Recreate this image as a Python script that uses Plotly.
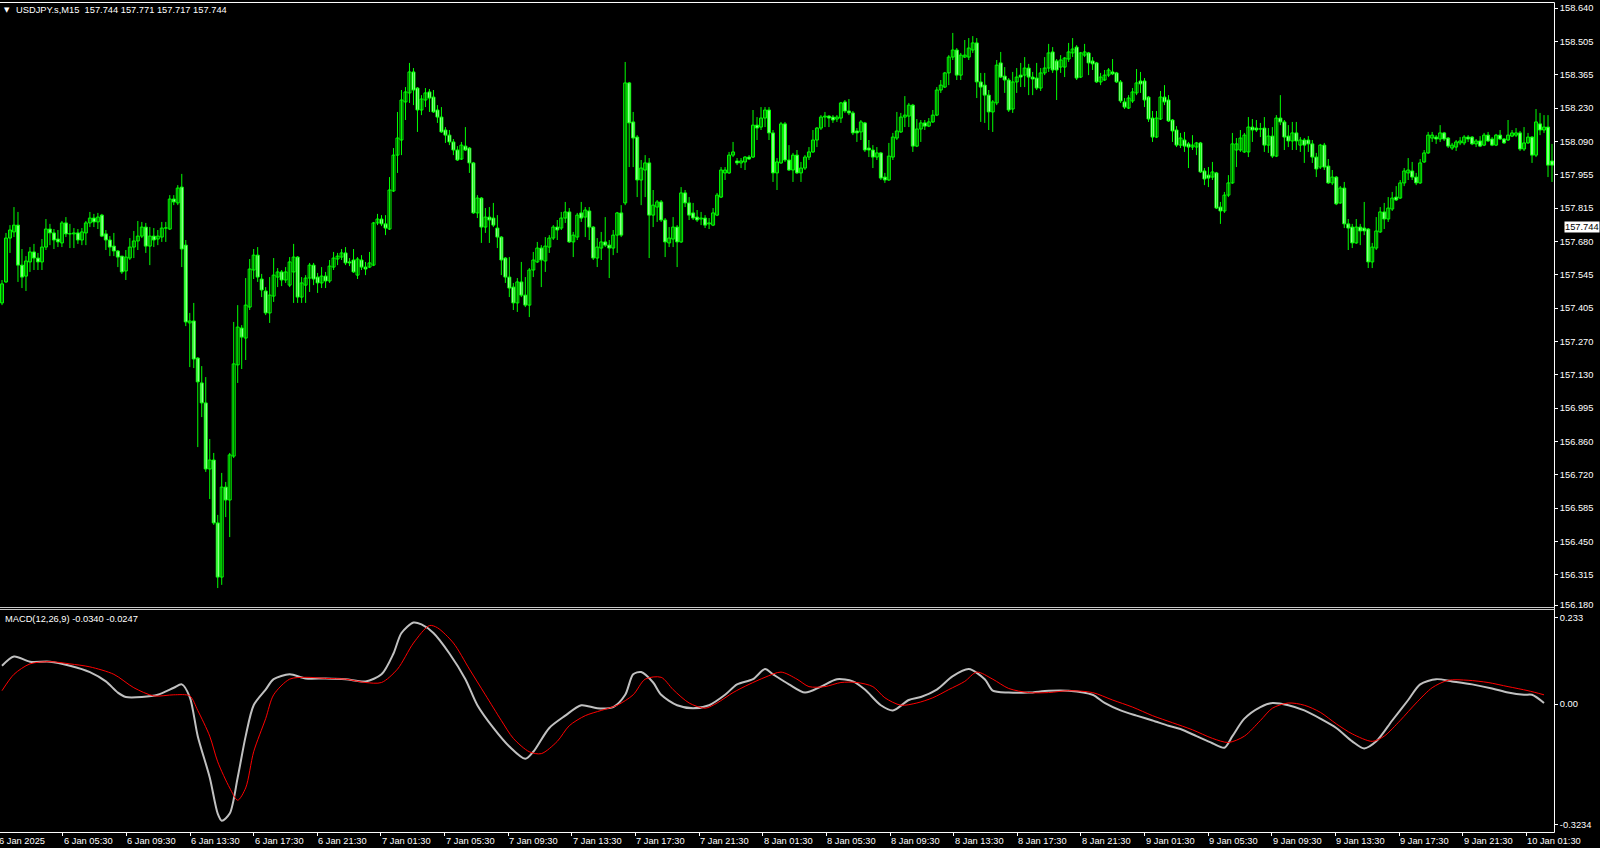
import plotly.graph_objects as go

# ---------------- data: USDJPY.s M15 candles (bar index 0..388) ----------------
open_ = [
157.431,157.517,157.697,157.722,157.750,157.586,157.541,157.599,157.640,157.615,
157.599,157.660,157.734,157.718,157.693,157.677,157.759,157.714,157.714,157.718,
157.689,157.718,157.759,157.779,157.763,157.791,157.714,157.689,157.664,157.644,
157.623,157.562,157.615,157.660,157.685,157.705,157.742,157.664,157.705,157.693,
157.701,157.738,157.734,157.857,157.841,157.906,157.668,157.349,157.357,157.205,
157.103,157.021,156.750,156.787,156.529,156.307,156.676,156.623,156.803,157.177,
157.328,157.287,157.414,157.566,157.627,157.529,157.480,157.390,157.459,157.537,
157.558,157.525,157.504,157.558,157.619,157.455,157.504,157.533,157.586,157.537,
157.513,157.541,157.521,157.578,157.611,157.619,157.636,157.599,157.607,157.545,
157.607,157.578,157.578,157.586,157.759,157.775,157.755,157.734,157.890,158.037,
158.099,158.255,158.292,158.378,158.312,158.222,158.263,158.296,158.275,158.222,
158.193,158.140,158.119,158.091,158.058,158.021,158.074,158.066,158.005,157.800,
157.861,157.742,157.783,157.779,157.738,157.701,157.615,157.537,157.496,157.431,
157.517,157.463,157.422,157.566,157.599,157.656,157.603,157.660,157.697,157.742,
157.738,157.779,157.804,157.681,157.701,157.800,157.783,157.808,157.742,157.615,
157.656,157.681,157.668,157.656,157.709,157.800,157.841,158.333,158.173,158.111,
157.935,157.976,158.005,157.791,157.824,157.845,157.771,157.677,157.693,157.742,
157.681,157.882,157.841,157.800,157.783,157.775,157.779,157.755,157.750,157.791,
157.865,157.964,157.964,158.037,158.013,158.005,158.009,158.029,158.029,158.160,
158.152,158.189,158.222,158.128,157.964,158.005,158.165,158.017,157.976,158.037,
157.964,157.984,158.029,158.050,158.099,158.148,158.193,158.197,158.193,158.185,
158.189,158.255,158.218,158.210,158.136,158.132,158.169,158.066,158.058,158.029,
158.046,157.947,157.935,158.029,158.107,158.132,158.193,158.197,158.242,158.074,
158.144,158.169,158.156,158.173,158.201,158.304,158.316,158.374,158.439,158.468,
158.365,158.439,158.439,158.468,158.497,158.337,158.324,158.283,158.214,158.251,
158.415,158.361,158.345,158.226,158.337,158.365,158.365,158.394,158.357,158.353,
158.312,158.374,158.394,158.460,158.423,158.398,158.398,158.431,158.456,158.480,
158.357,158.447,158.456,158.423,158.415,158.337,158.345,158.365,158.378,158.374,
158.337,158.255,158.230,158.259,158.292,158.341,158.341,158.275,158.189,158.111,
158.185,158.275,158.263,158.181,158.140,158.078,158.099,158.083,158.070,158.070,
158.087,157.972,157.955,157.947,157.964,157.824,157.808,157.873,157.923,158.058,
158.058,158.050,158.050,158.152,158.148,158.144,158.148,158.078,158.115,158.033,
158.189,158.173,158.115,158.095,158.128,158.078,158.099,158.099,158.083,158.029,
157.988,158.078,157.992,157.923,157.947,157.841,157.902,157.755,157.742,157.677,
157.742,157.738,157.734,157.599,157.656,157.722,157.804,157.775,157.816,157.865,
157.861,157.923,157.964,157.972,157.947,157.923,158.009,158.046,158.107,158.111,
158.103,158.128,158.107,158.066,158.070,158.087,158.087,158.111,158.111,158.083,
158.095,158.078,158.119,158.103,158.078,158.119,158.103,158.099,158.115,158.119,
158.128,158.062,158.087,158.111,158.037,158.165,158.140,158.152,158.013]

high = [
157.525,157.718,157.750,157.824,157.804,157.652,157.623,157.660,157.673,157.636,
157.693,157.775,157.755,157.734,157.730,157.767,157.783,157.755,157.738,157.734,
157.738,157.767,157.804,157.796,157.800,157.796,157.730,157.705,157.718,157.648,
157.623,157.648,157.697,157.726,157.767,157.763,157.759,157.742,157.738,157.730,
157.763,157.763,157.873,157.873,157.914,157.960,157.689,157.390,157.431,157.209,
157.172,157.127,156.873,156.816,156.562,156.734,156.697,156.816,157.353,157.422,
157.340,157.533,157.611,157.652,157.660,157.550,157.496,157.537,157.615,157.574,
157.566,157.578,157.619,157.673,157.623,157.537,157.545,157.595,157.595,157.554,
157.578,157.558,157.607,157.640,157.636,157.652,157.660,157.615,157.652,157.619,
157.627,157.599,157.640,157.763,157.796,157.791,157.791,157.947,158.066,158.214,
158.304,158.316,158.415,158.394,158.316,158.283,158.312,158.308,158.304,158.242,
158.234,158.152,158.140,158.103,158.074,158.091,158.152,158.070,158.009,157.873,
157.865,157.820,157.824,157.841,157.791,157.705,157.619,157.619,157.513,157.533,
157.599,157.537,157.574,157.640,157.681,157.668,157.701,157.709,157.750,157.771,
157.804,157.845,157.820,157.722,157.800,157.845,157.824,157.824,157.746,157.697,
157.722,157.783,157.689,157.730,157.804,157.832,158.419,158.337,158.214,158.119,
158.017,158.037,158.025,157.894,157.853,157.853,157.779,157.742,157.783,157.750,
157.906,157.894,157.865,157.841,157.812,157.804,157.791,157.779,157.820,157.882,
157.988,157.988,158.050,158.091,158.025,158.025,158.033,158.037,158.222,158.193,
158.234,158.234,158.234,158.140,158.025,158.173,158.173,158.078,158.046,158.058,
158.009,158.037,158.070,158.140,158.152,158.201,158.214,158.201,158.201,158.201,
158.255,158.263,158.267,158.218,158.148,158.181,158.173,158.099,158.078,158.070,
158.050,157.964,158.087,158.128,158.214,158.210,158.279,158.251,158.247,158.185,
158.181,158.181,158.189,158.222,158.316,158.345,158.378,158.447,158.538,158.476,
158.456,158.509,158.517,158.525,158.517,158.374,158.374,158.304,158.263,158.427,
158.460,158.398,158.353,158.378,158.394,158.415,158.439,158.411,158.378,158.415,
158.394,158.439,158.493,158.480,158.431,158.447,158.439,158.497,158.517,158.488,
158.460,158.493,158.460,158.439,158.419,158.374,158.386,158.394,158.431,158.378,
158.345,158.271,158.283,158.312,158.390,158.378,158.353,158.279,158.218,158.218,
158.300,158.324,158.283,158.185,158.156,158.128,158.132,158.091,158.119,158.091,
158.091,157.984,157.988,158.009,157.968,157.845,157.886,157.955,158.128,158.107,
158.140,158.128,158.193,158.185,158.181,158.169,158.193,158.148,158.152,158.201,
158.283,158.181,158.160,158.173,158.173,158.111,158.107,158.115,158.099,158.046,
158.083,158.087,158.021,157.976,157.951,157.910,157.927,157.775,157.755,157.775,
157.755,157.845,157.738,157.677,157.783,157.824,157.841,157.865,157.886,157.910,
157.935,157.984,158.025,158.009,157.964,158.021,158.058,158.132,158.132,158.119,
158.160,158.132,158.111,158.087,158.099,158.111,158.119,158.119,158.115,158.103,
158.115,158.128,158.132,158.111,158.124,158.140,158.107,158.181,158.140,158.148,
158.136,158.152,158.128,158.115,158.226,158.210,158.201,158.201,158.083]

low = [
157.422,157.513,157.636,157.701,157.517,157.492,157.480,157.558,157.566,157.566,
157.566,157.648,157.668,157.652,157.660,157.660,157.701,157.656,157.656,157.673,
157.668,157.668,157.742,157.742,157.734,157.701,157.648,157.623,157.623,157.578,
157.550,157.525,157.607,157.615,157.648,157.697,157.636,157.586,157.660,157.668,
157.681,157.681,157.730,157.832,157.832,157.578,157.336,157.168,157.164,156.840,
156.963,156.738,156.627,156.521,156.262,156.275,156.553,156.471,156.795,157.103,
157.160,157.197,157.402,157.529,157.517,157.455,157.381,157.349,157.435,157.496,
157.500,157.513,157.496,157.431,157.431,157.431,157.431,157.476,157.504,157.472,
157.492,157.492,157.513,157.566,157.586,157.607,157.586,157.582,157.554,157.529,
157.566,157.545,157.574,157.582,157.750,157.746,157.709,157.730,157.886,157.964,
158.037,158.181,158.251,158.242,158.132,158.201,158.234,158.214,158.210,158.169,
158.128,158.087,158.078,158.037,158.013,158.017,158.054,157.964,157.796,157.779,
157.677,157.718,157.677,157.742,157.656,157.545,157.513,157.455,157.402,157.394,
157.455,157.414,157.373,157.537,157.595,157.496,157.558,157.636,157.689,157.689,
157.730,157.759,157.677,157.619,157.689,157.763,157.701,157.689,157.607,157.578,
157.607,157.660,157.533,157.627,157.636,157.701,157.832,157.988,157.988,157.865,
157.832,157.865,157.615,157.742,157.763,157.763,157.619,157.660,157.660,157.578,
157.677,157.824,157.771,157.771,157.763,157.750,157.738,157.734,157.746,157.787,
157.861,157.935,157.960,158.029,157.996,157.984,157.976,158.017,158.025,158.099,
158.140,158.152,158.099,157.927,157.894,158.001,158.009,157.972,157.927,157.960,
157.927,157.976,158.017,158.046,158.070,158.140,158.152,158.152,158.169,158.173,
158.169,158.210,158.201,158.119,158.091,158.099,158.050,158.029,157.984,158.017,
157.935,157.923,157.931,158.017,158.099,158.128,158.152,158.152,158.050,158.070,
158.091,158.140,158.152,158.169,158.197,158.292,158.312,158.324,158.427,158.345,
158.345,158.435,158.427,158.456,158.271,158.173,158.169,158.140,158.132,158.242,
158.353,158.292,158.214,158.210,158.292,158.316,158.316,158.283,158.283,158.304,
158.300,158.365,158.378,158.374,158.263,158.374,158.357,158.419,158.439,158.345,
158.353,158.439,158.365,158.386,158.333,158.324,158.341,158.357,158.365,158.333,
158.251,158.226,158.226,158.251,158.283,158.292,158.234,158.173,158.091,158.107,
158.181,158.242,158.173,158.091,158.070,158.066,158.050,157.984,158.058,158.037,
157.964,157.914,157.906,157.935,157.816,157.755,157.800,157.865,157.919,157.988,
158.050,158.046,158.029,158.091,158.132,158.111,158.050,158.046,158.025,158.029,
158.160,158.058,158.070,158.058,158.058,158.050,158.005,158.050,158.005,157.947,
157.980,157.976,157.919,157.914,157.832,157.837,157.738,157.648,157.656,157.673,
157.668,157.709,157.574,157.574,157.648,157.718,157.734,157.763,157.808,157.849,
157.857,157.910,157.935,157.935,157.914,157.919,158.005,158.042,158.091,158.083,
158.091,158.095,158.066,158.058,158.054,158.078,158.078,158.091,158.078,158.070,
158.070,158.074,158.091,158.074,158.074,158.099,158.083,158.095,158.111,158.111,
158.054,158.054,158.083,158.005,158.029,158.119,158.128,157.947,157.927]

close = [
157.509,157.697,157.730,157.750,157.586,157.537,157.603,157.640,157.615,157.599,
157.660,157.734,157.718,157.689,157.681,157.759,157.714,157.714,157.718,157.689,
157.722,157.759,157.779,157.763,157.783,157.705,157.689,157.660,157.644,157.619,
157.558,157.619,157.660,157.685,157.705,157.742,157.664,157.705,157.689,157.705,
157.738,157.738,157.857,157.845,157.902,157.652,157.353,157.357,157.201,157.107,
157.021,156.750,156.787,156.529,156.307,156.676,156.623,156.808,157.181,157.332,
157.291,157.422,157.570,157.627,157.537,157.484,157.390,157.463,157.545,157.558,
157.525,157.558,157.599,157.619,157.455,157.513,157.533,157.586,157.529,157.513,
157.541,157.521,157.582,157.615,157.623,157.636,157.595,157.595,157.558,157.611,
157.578,157.570,157.595,157.759,157.775,157.755,157.738,157.894,158.037,158.107,
158.263,158.296,158.378,158.304,158.222,158.267,158.292,158.271,158.214,158.193,
158.132,158.119,158.091,158.058,158.017,158.078,158.058,158.005,157.800,157.861,
157.742,157.783,157.771,157.750,157.701,157.607,157.537,157.492,157.431,157.517,
157.463,157.422,157.566,157.607,157.656,157.607,157.664,157.697,157.742,157.730,
157.779,157.804,157.681,157.709,157.791,157.779,157.812,157.742,157.615,157.660,
157.681,157.668,157.656,157.709,157.800,157.709,158.333,158.169,158.107,157.935,
157.984,158.005,157.791,157.832,157.845,157.771,157.681,157.697,157.742,157.681,
157.882,157.841,157.791,157.779,157.771,157.779,157.750,157.759,157.800,157.873,
157.976,157.976,158.037,158.050,158.005,158.013,158.029,158.021,158.160,158.148,
158.189,158.222,158.128,157.964,158.009,158.165,158.017,157.976,158.037,157.964,
157.984,158.029,158.050,158.099,158.148,158.193,158.197,158.189,158.181,158.193,
158.251,158.218,158.210,158.128,158.128,158.173,158.058,158.058,158.029,158.046,
157.943,157.935,158.033,158.111,158.136,158.193,158.201,158.242,158.074,158.144,
158.169,158.156,158.173,158.201,158.304,158.324,158.374,158.439,158.468,158.365,
158.447,158.447,158.476,158.497,158.337,158.316,158.283,158.214,158.255,158.406,
158.357,158.345,158.222,158.337,158.357,158.357,158.394,158.357,158.349,158.312,
158.374,158.394,158.456,158.386,158.386,158.427,158.435,158.460,158.472,158.353,
158.456,158.460,158.415,158.411,158.337,158.357,158.365,158.386,158.370,158.337,
158.259,158.234,158.271,158.296,158.333,158.329,158.263,158.185,158.111,158.189,
158.275,158.255,158.177,158.136,158.078,158.107,158.074,158.070,158.078,158.087,
157.968,157.939,157.943,157.968,157.820,157.808,157.873,157.923,158.083,158.083,
158.107,158.119,158.152,158.140,158.140,158.144,158.078,158.115,158.033,158.189,
158.173,158.111,158.095,158.128,158.095,158.099,158.078,158.083,158.029,157.980,
158.078,157.988,157.923,157.947,157.837,157.902,157.755,157.738,157.677,157.742,
157.726,157.726,157.599,157.660,157.726,157.804,157.775,157.820,157.861,157.853,
157.923,157.972,157.976,157.947,157.923,158.005,158.046,158.119,158.119,158.103,
158.128,158.103,158.074,158.078,158.091,158.095,158.111,158.103,158.083,158.095,
158.074,158.119,158.095,158.078,158.119,158.103,158.087,158.119,158.128,158.128,
158.062,158.087,158.111,158.037,158.173,158.140,158.152,157.996,157.996]

# MACD(12,26,9) main line and signal, read at bar indices
macd_bar = [0,3,7,12,17,22,26,29,31,35,39,43,45,47,49,52,54,55,57,59,
            61,63,66,68,72,76,81,86,91,95,98,100,103,105,108,112,116,119,123,127,
            131,133,137,141,145,149,153,156,158,160,163,165,169,173,177,181,184,188,191,193,
            197,201,205,209,213,216,220,223,227,230,234,238,242,246,248,252,257,262,267,273,
            276,280,284,288,292,295,299,303,306,308,311,315,318,322,326,330,334,338,341,344,
            348,352,355,359,363,368,373,377,381,383,386]
macd_main = [0.103,0.128,0.114,0.114,0.103,0.086,0.061,0.031,0.019,0.019,
             0.025,0.044,0.053,0.019,-0.086,-0.197,-0.294,-0.313,-0.294,-0.197,
             -0.086,-0.003,0.039,0.067,0.080,0.069,0.069,0.067,0.061,0.080,
             0.136,0.191,0.219,0.214,0.191,0.136,0.067,-0.003,-0.064,-0.114,
             -0.147,-0.128,-0.064,-0.031,-0.003,-0.011,-0.008,0.025,0.080,0.086,
             0.058,0.025,-0.003,-0.011,-0.003,0.025,0.053,0.067,0.094,0.080,
             0.053,0.031,0.047,0.067,0.061,0.039,-0.003,-0.017,0.011,0.019,
             0.039,0.075,0.094,0.067,0.036,0.031,0.031,0.036,0.036,0.025,
             0.003,-0.017,-0.031,-0.044,-0.058,-0.067,-0.086,-0.105,-0.117,-0.086,
             -0.039,-0.008,0.003,-0.003,-0.017,-0.039,-0.064,-0.100,-0.119,-0.100,
             -0.044,0.011,0.053,0.067,0.061,0.053,0.042,0.031,0.025,0.025,0.003]
signal_bar = [0,3,7,12,17,22,28,33,38,43,47,49,52,54,57,59,61,63,66,68,
              72,76,81,86,91,95,99,103,107,109,113,117,121,125,128,132,135,139,142,146,
              150,154,158,161,165,168,172,176,179,183,187,191,195,199,202,206,210,214,218,221,
              225,229,233,237,241,244,248,252,257,262,267,273,278,283,288,293,298,303,307,311,
              315,318,322,326,330,334,338,343,346,350,354,358,362,367,372,377,382,386]
macd_signal = [0.036,0.080,0.108,0.114,0.108,0.100,0.080,0.044,0.022,0.025,
               0.022,-0.017,-0.086,-0.155,-0.225,-0.258,-0.225,-0.128,-0.039,0.025,
               0.067,0.072,0.069,0.067,0.058,0.058,0.094,0.164,0.211,0.205,
               0.164,0.094,0.025,-0.044,-0.092,-0.128,-0.133,-0.100,-0.058,-0.031,
               -0.017,-0.003,0.025,0.067,0.072,0.039,0.003,-0.011,0.003,0.031,
               0.053,0.072,0.086,0.067,0.047,0.047,0.058,0.058,0.047,0.017,
               -0.003,0.003,0.017,0.039,0.061,0.086,0.067,0.042,0.031,0.031,
               0.036,0.031,0.011,-0.008,-0.031,-0.050,-0.069,-0.092,-0.103,-0.086,
               -0.044,-0.011,0.003,-0.003,-0.022,-0.053,-0.080,-0.100,-0.086,-0.044,
               0.003,0.044,0.064,0.064,0.058,0.047,0.036,0.025]

price_tick_text = ["158.640","158.505","158.365","158.230","158.090","157.955","157.815",
                   "157.680","157.545","157.405","157.270","157.130","156.995","156.860",
                   "156.720","156.585","156.450","156.315","156.180"]
macd_tick_vals = [0.233, 0.0, -0.3234]
macd_tick_text = ["0.233", "0.00", "-0.3234"]
time_labels = ["6 Jan 05:30","6 Jan 09:30","6 Jan 13:30","6 Jan 17:30","6 Jan 21:30",
               "7 Jan 01:30","7 Jan 05:30","7 Jan 09:30","7 Jan 13:30","7 Jan 17:30","7 Jan 21:30",
               "8 Jan 01:30","8 Jan 05:30","8 Jan 09:30","8 Jan 13:30","8 Jan 17:30","8 Jan 21:30",
               "9 Jan 01:30","9 Jan 05:30","9 Jan 09:30","9 Jan 13:30","9 Jan 17:30","9 Jan 21:30",
               "10 Jan 01:30"]
first_label = "6 Jan 2025"
title_text = "USDJPY.s,M15  157.744 157.771 157.717 157.744"
macd_title = "MACD(12,26,9) -0.0340 -0.0247"
last_price_text = "157.744"
last_price = 157.744

# ---------------- figure ----------------
FONT = "Liberation Sans, Arial, sans-serif"
FS = 9.3
GREEN = "#00FF00"
n = len(close)
bars = list(range(n))

x_w, y_w = [], []
for i in range(n):
    x_w += [i, i, None]
    y_w += [low[i], high[i], None]
body_base = [min(o, c) for o, c in zip(open_, close)]
body_len = [max(abs(c - o), 0.0008) for o, c in zip(open_, close)]
body_fill = ["#FFFFFF" if c < o else "#000000" for o, c in zip(open_, close)]

fig = go.Figure()
fig.add_trace(go.Scatter(x=x_w, y=y_w, mode="lines", line=dict(color=GREEN, width=1),
                         xaxis="x", yaxis="y", hoverinfo="skip"))
fig.add_trace(go.Bar(x=bars, y=body_len, base=body_base, width=0.75,
                     marker=dict(color=body_fill, line=dict(color=GREEN, width=1)),
                     xaxis="x", yaxis="y"))
fig.add_trace(go.Scatter(x=macd_bar, y=macd_main, mode="lines",
                         line=dict(color="#C0C0C0", width=2, shape="spline", smoothing=0.8),
                         xaxis="x2", yaxis="y2"))
fig.add_trace(go.Scatter(x=signal_bar, y=macd_signal, mode="lines",
                         line=dict(color="#FF0000", width=1, shape="spline", smoothing=0.8),
                         xaxis="x2", yaxis="y2"))

step = (158.640 - 156.180) / 18
price_tick_vals = [158.640 - k * step for k in range(18)] + [156.1925]
time_tick_bars = [15.2 + 15.93 * k for k in range(len(time_labels))]
XR = [-0.5, 388.5]

tfont = dict(family=FONT, size=FS, color="#FFFFFF")
axis_common = dict(showgrid=False, zeroline=False, showline=False, fixedrange=True)
fig.update_layout(
    width=1600, height=848,
    margin=dict(l=0, r=46, t=2, b=16, pad=0),
    paper_bgcolor="#000000", plot_bgcolor="#000000",
    showlegend=False,
    font=tfont,
    xaxis=dict(domain=[0, 1], range=XR, anchor="y", showticklabels=False, ticks="", **axis_common),
    yaxis=dict(domain=[0.26867, 1], range=[156.1761, 158.6648], side="right", anchor="x",
               tickmode="array", tickvals=price_tick_vals, ticktext=price_tick_text,
               ticks="outside", ticklen=3, tickcolor="#FFFFFF", tickfont=tfont,
               automargin=False, **axis_common),
    xaxis2=dict(domain=[0, 1], range=XR, anchor="y2", showticklabels=False,
                tickmode="array", tickvals=time_tick_bars, ticks="outside", ticklen=3,
                tickcolor="#FFFFFF", automargin=False, **axis_common),
    yaxis2=dict(domain=[0, 0.26747], range=[-0.3434, 0.2527], side="right", anchor="x2",
                tickmode="array", tickvals=macd_tick_vals, ticktext=macd_tick_text,
                ticks="outside", ticklen=3, tickcolor="#FFFFFF", tickfont=tfont,
                automargin=False, **axis_common),
)

shapes = [
    dict(type="line", xref="paper", yref="paper", x0=0, x1=1.00032, y0=0.99940, y1=0.99940,
         line=dict(color="#FFFFFF", width=1)),
    dict(type="line", xref="paper", yref="paper", x0=1.00032, x1=1.00032, y0=-0.0006, y1=0.99940,
         line=dict(color="#FFFFFF", width=1)),
    dict(type="line", xref="paper", yref="paper", x0=0, x1=1.00032, y0=-0.0006, y1=-0.0006,
         line=dict(color="#FFFFFF", width=1)),
    dict(type="line", xref="paper", yref="paper", x0=0, x1=1.00032, y0=0.27048, y1=0.27048,
         line=dict(color="#C8C8C8", width=1)),
    dict(type="line", xref="paper", yref="paper", x0=0, x1=1.00032, y0=0.26807, y1=0.26807,
         line=dict(color="#C8C8C8", width=1)),
]
fig.update_layout(shapes=shapes)

ann = []
for xb, lab in zip(time_tick_bars, time_labels):
    ann.append(dict(x=xb, y=-0.0108, xref="x2", yref="paper", text=lab, showarrow=False,
                    xanchor="left", yanchor="middle", xshift=-1, font=tfont))
ann.append(dict(x=-3 / 1554, y=-0.0108, xref="paper", yref="paper", text=first_label,
                showarrow=False, xanchor="left", yanchor="middle", font=tfont))
ann.append(dict(x=14 / 1554, y=(832 - 10) / 830, xref="paper", yref="paper", text=title_text,
                showarrow=False, xanchor="left", yanchor="middle", font=tfont))
ann.append(dict(x=2 / 1554, y=(832 - 10) / 830, xref="paper", yref="paper", text="▼",
                showarrow=False, xanchor="left", yanchor="middle",
                font=dict(family="DejaVu Sans", size=7, color="#FFFFFF")))
ann.append(dict(x=3 / 1554, y=(832 - 619) / 830, xref="paper", yref="paper", text=macd_title,
                showarrow=False, xanchor="left", yanchor="middle", font=tfont))
ann.append(dict(x=1564 / 1554, y=last_price, xref="paper", yref="y", text=last_price_text,
                showarrow=False, xanchor="left", yanchor="middle", bgcolor="#FFFFFF",
                borderpad=0, font=dict(family=FONT, size=FS, color="#000000")))
fig.update_layout(annotations=ann)

fig.write_html("out.html", config={"displayModeBar": False},
               post_script="document.body.style.margin='0';document.body.style.padding='0';"
                           "document.body.style.background='#000';")
